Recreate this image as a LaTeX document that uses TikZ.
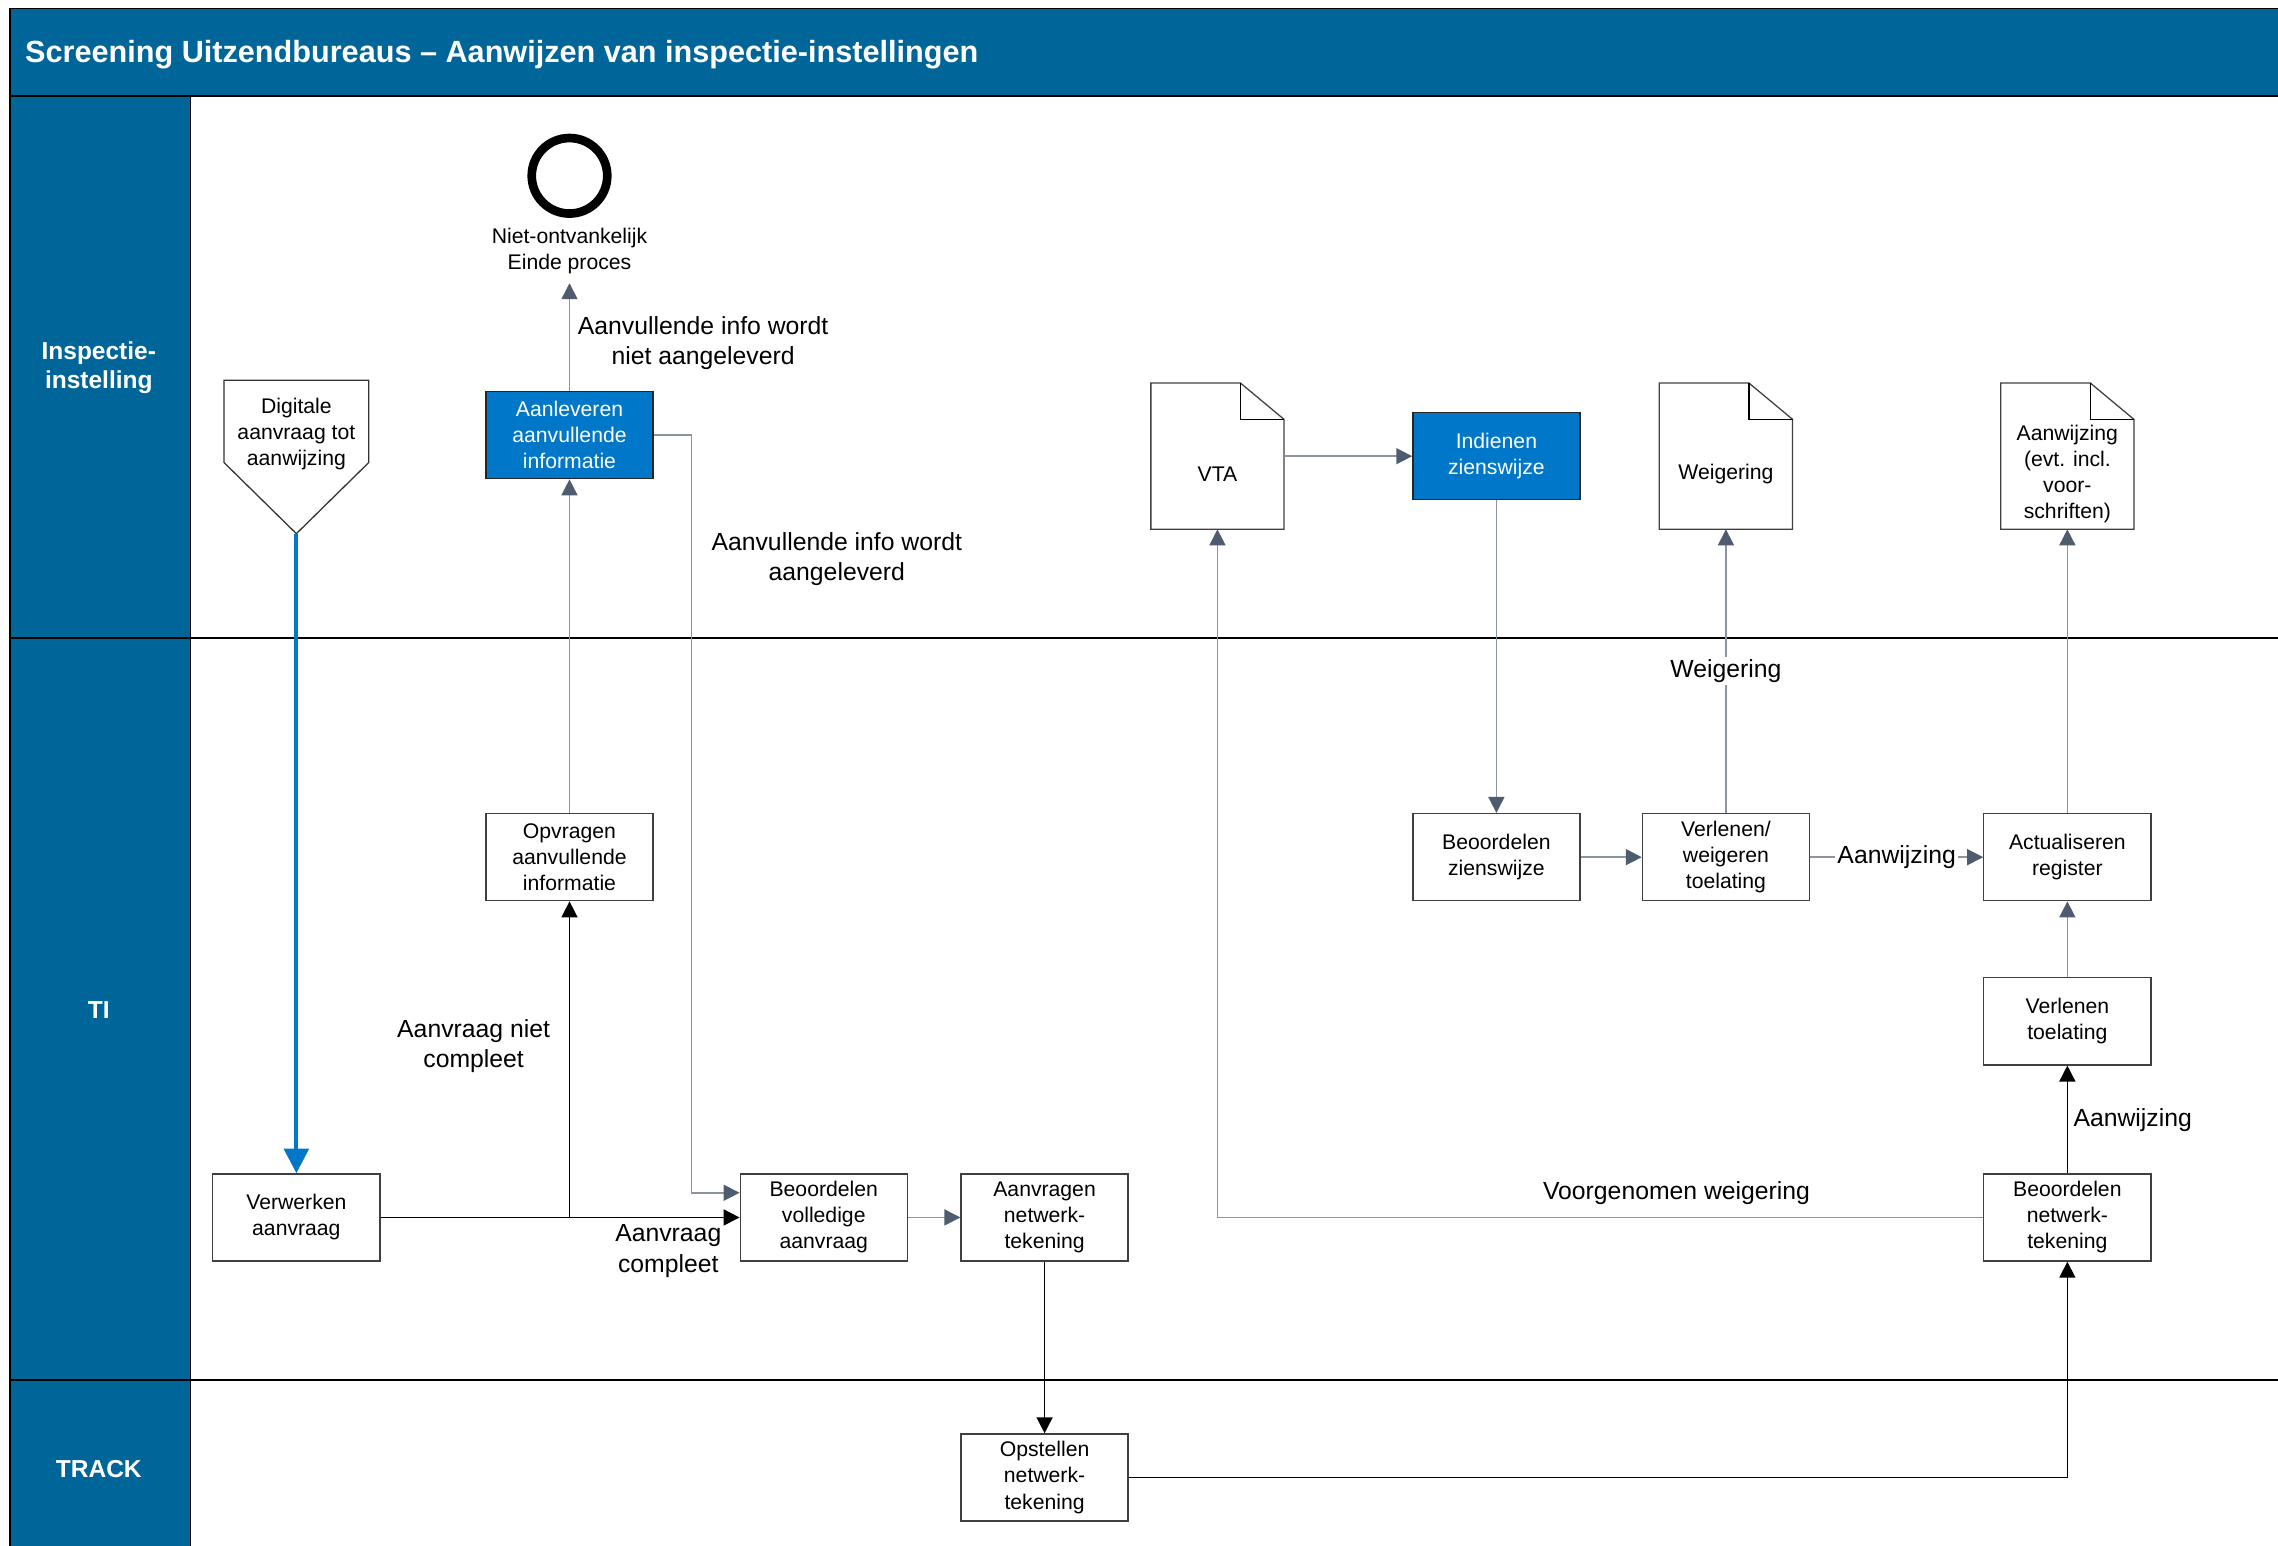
\documentclass[tikz,border=0pt]{standalone}
\usepackage{fontspec}
\setmainfont{Liberation Sans}
\usetikzlibrary{arrows.meta}
\definecolor{hdrblue}{RGB}{0,102,153}
\definecolor{actblue}{RGB}{0,119,200}
\definecolor{slate}{RGB}{79,91,110}
\definecolor{lightline}{RGB}{140,148,160}
\begin{document}
\begin{tikzpicture}[x=0.02cm,y=-0.02cm,
  boxfont/.style={font=\fontsize{8.3}{10.2}\selectfont,align=center},
  task/.style={boxfont,draw=black!75,fill=white,line width=0.5pt,minimum width=2.3cm,minimum height=1.2cm,inner sep=1pt},
  bluetask/.style={task,fill=actblue,text=white,draw=black!85},
  doc/.style={minimum width=1.82cm,minimum height=2cm,inner sep=0pt,label={[boxfont,yshift=-0.25cm]center:#1}},
  lbl/.style={font=\fontsize{9.7}{11.95}\selectfont,align=center,inner sep=1pt},
  lane/.style={font=\bfseries\fontsize{9.6}{11.4}\selectfont,text=white,align=center},
  flow/.style={draw=lightline,line width=0.6pt,-{Triangle[length=0.22cm,width=0.22cm,color=slate]}},
  seq/.style={draw=black,line width=0.6pt,-{Triangle[length=0.22cm,width=0.22cm]}},
  start/.style={draw=actblue,line width=1.5pt,-{Triangle[length=0.34cm,width=0.34cm]}}]
\useasboundingbox (0,0) rectangle (1568,1064);

% pool and lanes
\fill[hdrblue] (7,6) rectangle (1575,66);
\fill[hdrblue] (7,66) rectangle (131,1070);
\draw[line width=0.6pt] (7,1070) -- (7,6) -- (1575,6);
\draw[line width=0.8pt] (7,66) -- (1575,66);
\draw[line width=0.6pt] (131,66) -- (131,1070);
\draw[line width=0.8pt] (7,439) -- (1575,439);
\draw[line width=0.8pt] (7,950) -- (1575,950);
\node[anchor=west,inner sep=0pt,text=white,font=\bfseries\fontsize{12}{14}\selectfont] (title) at (17,37.5) {Screening Uitzendbureaus -- Aanwijzen van inspectie-instellingen};
\node[lane] (insp) at (68,253) {Inspectie-\\instelling};
\node[lane] (ti) at (68,695) {TI};
\node[lane] (track) at (68,1011) {TRACK};

% start and end
\node[minimum width=1.98cm,minimum height=2.1cm,inner sep=0pt,label={[boxfont,yshift=0.31cm]center:Digitale\\aanvraag tot\\aanwijzing}] (dig) at (204,314.5) {};
\draw[draw=black!80,line width=0.5pt] (dig.north west) -- (dig.north east) -- ([yshift=0.98cm]dig.south east) -- (dig.south) -- ([yshift=0.98cm]dig.south west) -- cycle;
\node[circle,draw,line width=3.4pt,minimum size=1.04cm] (eind) at (392,121) {};
\node[boxfont] (eindtxt) at (392,173) {Niet-ontvankelijk\\Einde proces};

% tasks
\node[bluetask] (aanl) at (392,299.5) {Aanleveren\\aanvullende\\informatie};
\node[task] (opvr) at (392,590) {Opvragen\\aanvullende\\informatie};
\node[task] (verw) at (204,838) {Verwerken\\aanvraag};
\node[task] (bvol) at (567,838) {Beoordelen\\volledige\\aanvraag};
\node[task] (aanvr) at (719,838) {Aanvragen\\netwerk-\\tekening};
\node[task] (opst) at (719,1017) {Opstellen\\netwerk-\\tekening};
\node[task] (bnet) at (1423,838) {Beoordelen\\netwerk-\\tekening};
\node[task] (verl) at (1423,703) {Verlenen\\toelating};
\node[task] (act) at (1423,590) {Actualiseren\\register};
\node[task] (vw) at (1188,590) {Verlenen/\\weigeren\\toelating};
\node[task] (bzien) at (1030,590) {Beoordelen\\zienswijze};
\node[bluetask] (indien) at (1030,314) {Indienen\\zienswijze};

% documents
\node[doc={VTA}] (vta) at (838,314) {};
\node[doc={Weigering}] (weig) at (1188,314) {};
\node[doc={Aanwijzing\\(evt. incl.\\voor-\\schriften)}] (aanw) at (1423,314) {};
\foreach \d in {vta,weig,aanw} {
  \draw[draw=black!75,line width=0.5pt] (\d.south west) -- (\d.north west) -- ([xshift=-0.6cm]\d.north east) -- ([yshift=-0.5cm]\d.north east) -- (\d.south east) -- cycle;
  \draw[line width=0.6pt] ([xshift=-0.6cm]\d.north east) |- ([yshift=-0.5cm]\d.north east);
}

% connectors
\draw[start] (dig.south) -- (verw.north);
\draw[seq] (verw.east) -- (bvol.west);
\draw[seq] (verw -| opvr) -- (opvr.south);
\draw[flow] (opvr) -- (aanl);
\draw[flow] (aanl) -- (eindtxt);
\draw[flow] (aanl.east) -- ++(26,0) |- ([yshift=0.34cm]bvol.west);
\draw[flow] (bvol) -- (aanvr);
\draw[seq] (aanvr) -- (opst);
\draw[seq] (opst.east) -| (bnet.south);
\draw[flow] (bnet.west) -| (vta.south);
\draw[seq] (bnet) -- (verl);
\draw[flow] (verl) -- (act);
\draw[flow] (act) -- (aanw);
\draw[flow] (vta) -- (indien);
\draw[flow] (indien) -- (bzien);
\draw[flow] (bzien) -- (vw);
\draw[flow] (vw) -- node[lbl,fill=white] {Weigering} (weig);
\draw[flow] (vw) -- node[lbl,fill=white] {Aanwijzing} (act);

% labels
\node[lbl] (lblniet) at (484,236) {Aanvullende info wordt\\niet aangeleverd};
\node[lbl] (lblgeleverd) at (576,385) {Aanvullende info wordt\\aangeleverd};
\node[lbl] (lblnietcompl) at (326,720) {Aanvraag niet\\compleet};
\node[lbl] (lblcompl) at (460,861) {Aanvraag\\compleet};
\node[lbl] (lblvoorg) at (1154,821) {Voorgenomen weigering};
\node[lbl] (lblaanw) at (1468,771) {Aanwijzing};

\end{tikzpicture}
\end{document}
